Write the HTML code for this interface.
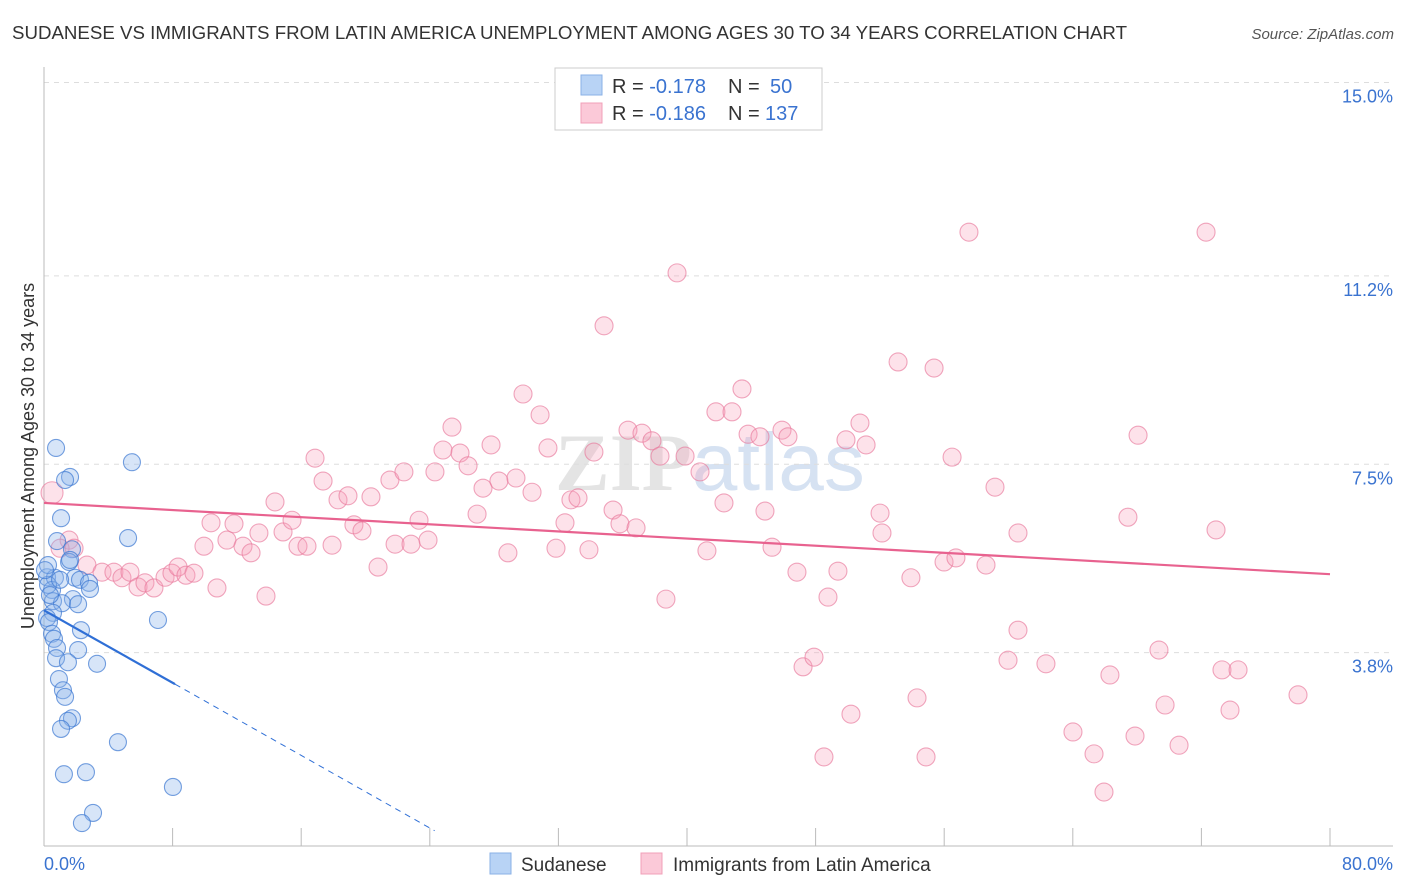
<!DOCTYPE html>
<html><head><meta charset="utf-8"><style>
body{margin:0;background:#fff;font-family:"Liberation Sans",sans-serif;}
#wrap{position:relative;width:1406px;height:892px;overflow:hidden;}
</style></head><body>
<div id="wrap">
<svg id="svg" width="1406" height="892" xmlns="http://www.w3.org/2000/svg" font-family="Liberation Sans, sans-serif">
<text x="12" y="39" font-size="18" fill="#333" textLength="1115" lengthAdjust="spacingAndGlyphs">SUDANESE VS IMMIGRANTS FROM LATIN AMERICA UNEMPLOYMENT AMONG AGES 30 TO 34 YEARS CORRELATION CHART</text>
<text x="1394" y="39" font-size="15" fill="#555" font-style="italic" text-anchor="end">Source: ZipAtlas.com</text>
<text x="555" y="490" font-size="82" fill="#e4e4e4" font-family="Liberation Serif, serif" font-weight="bold">ZIP<tspan fill="#d6e2f2" font-family="Liberation Sans, sans-serif" font-weight="normal">atlas</tspan></text>
<g id="grid"></g>
<g id="axes"></g>
<g id="pts"></g>
<g id="lines"></g>
<text transform="translate(34,456) rotate(-90)" font-size="18" fill="#333" text-anchor="middle">Unemployment Among Ages 30 to 34 years</text>
<g>
<rect x="555" y="68" width="267" height="62" fill="#fff" stroke="#ccc"/>
<rect x="581" y="75" width="21" height="20" fill="#b8d3f5" stroke="#8ab0e6"/>
<rect x="581" y="103" width="21" height="20" fill="#fbc9d8" stroke="#f0a0b8"/>
<text x="612" y="93" font-size="20" fill="#333">R = <tspan fill="#3a73d0">-0.178</tspan><tspan x="728">N = </tspan><tspan x="770" fill="#3a73d0">50</tspan></text>
<text x="612" y="120" font-size="20" fill="#333">R = <tspan fill="#3a73d0">-0.186</tspan><tspan x="728">N = </tspan><tspan x="765" fill="#3a73d0">137</tspan></text>
</g>
<g>
<rect x="490" y="853" width="21" height="21" fill="#b8d3f5" stroke="#8ab0e6"/>
<text x="521" y="871" font-size="19" fill="#333">Sudanese</text>
<rect x="641" y="853" width="21" height="21" fill="#fbc9d8" stroke="#f0a0b8"/>
<text x="673" y="871" font-size="19" fill="#333">Immigrants from Latin America</text>
</g>
</svg>
</div>
<script>
const yTicks=[3.8,7.5,11.2,15.0];
const yTickLabels=["3.8%","7.5%","11.2%","15.0%"];
const xTicks=[8,16,24,32,40,48,56,64,72,80];
const xEndLabels=["0.0%","80.0%"];
const sudX=[0.75,5.47,1.62,1.31,1.06,5.23,0.81,1.74,1.56,0.19,0.68,1.93,2.24,2.80,0.50,2.86,0.56,1.80,1.12,2.12,0.56,0.19,0.31,7.09,2.30,0.50,0.62,0.81,2.12,0.75,1.49,3.30,0.93,1.18,1.31,1.74,1.49,1.06,4.60,1.24,2.61,8.02,3.05,2.36,0.25,0.25,0.37,1.00,0.06,1.62];
const sudY=[7.82,7.54,7.25,7.19,6.44,6.05,5.99,5.83,5.58,5.28,5.27,5.27,5.23,5.17,5.03,5.05,4.81,4.85,4.77,4.75,4.58,4.48,4.40,4.44,4.24,4.17,4.07,3.89,3.85,3.69,3.61,3.58,3.28,3.06,2.93,2.51,2.46,2.30,2.04,1.41,1.45,1.16,0.65,0.45,5.52,5.13,4.93,5.23,5.42,5.62];
const latX=[0.50,1.56,1.00,1.87,2.67,3.61,4.35,4.85,5.35,5.85,6.28,6.84,7.53,7.96,8.34,8.83,9.33,9.95,10.39,10.76,11.38,11.82,12.38,12.88,13.37,13.81,14.37,14.87,15.43,15.80,16.36,16.86,17.36,17.92,18.29,18.91,19.28,19.78,20.34,20.78,21.52,21.84,22.39,22.83,23.33,23.89,24.32,24.82,25.38,25.88,26.38,26.94,27.31,27.81,28.30,28.86,29.36,29.80,30.36,30.86,31.35,31.85,32.41,32.78,33.22,33.90,34.21,34.84,35.40,35.83,36.33,36.83,37.20,37.82,38.32,38.69,39.38,39.88,40.81,41.24,41.80,42.30,42.80,43.42,43.80,44.54,44.85,45.29,45.91,46.28,46.84,47.22,47.90,48.52,48.77,49.39,49.89,50.20,50.76,51.14,52.01,52.13,53.13,53.93,54.31,54.87,55.37,55.99,56.49,56.73,57.54,58.60,59.16,59.97,60.59,60.59,62.33,64.01,65.32,65.94,66.31,67.43,67.87,68.06,69.36,69.74,70.61,72.29,72.91,73.28,73.78,74.28,78.01];
const latY=[6.94,6.01,5.85,5.85,5.52,5.38,5.38,5.27,5.38,5.09,5.17,5.07,5.28,5.36,5.48,5.32,5.36,5.89,6.35,5.07,6.01,6.33,5.89,5.76,6.15,4.91,6.76,6.17,6.40,5.89,5.89,7.62,7.17,5.91,6.80,6.88,6.31,6.19,6.86,5.48,7.19,5.93,7.35,5.93,6.40,6.01,7.35,7.78,8.23,7.72,7.47,6.52,7.03,7.88,7.17,5.76,7.23,8.88,6.95,8.47,7.82,5.85,6.35,6.80,6.84,5.82,7.74,10.22,6.60,6.33,8.17,6.25,8.11,7.96,7.66,4.85,11.26,7.66,7.35,5.80,8.53,6.74,8.53,8.98,8.09,8.04,6.58,5.87,8.17,8.04,5.38,3.52,3.71,1.75,4.89,5.40,7.98,2.59,8.31,7.88,6.54,6.15,9.51,5.27,2.91,1.75,9.39,5.58,7.64,5.66,12.06,5.52,7.05,3.65,4.24,6.15,3.58,2.24,1.81,1.06,3.36,6.46,2.16,8.07,3.85,2.77,1.98,12.06,6.21,3.46,2.67,3.46,2.97];
const sudTrend=[0,4.63,8.15,3.18,24.3,0.3];
const latTrend=[0,6.74,80,5.34];
const NS='http://www.w3.org/2000/svg';
const X=v=>44+v*16.075, Y=v=>846-v*50.9;
function mk(p,t,a){const e=document.createElementNS(NS,t);for(const k in a)e.setAttribute(k,a[k]);document.getElementById(p).appendChild(e);return e;}
yTicks.forEach((t,i)=>{
 const g=mk('grid','line',{x1:44,x2:1393,y1:Y(t),y2:Y(t),stroke:'#ddd','stroke-dasharray':'5,5'});
 
 
 const l=mk('grid','text',{x:1393,y:Y(t)+20,'text-anchor':'end','font-size':18,fill:'#3a73d0'});
 l.textContent=yTickLabels[i];
 
 
});
const ya=mk('axes','line',{x1:44,x2:44,y1:67,y2:846,stroke:'#bbb'});


const xa=mk('axes','line',{x1:44,x2:1393,y1:846,y2:846,stroke:'#bbb'});


xTicks.forEach(t=>{
 const k=mk('axes','line',{x1:X(t),x2:X(t),y1:828,y2:846,stroke:'#bbb'});
 
 
});
const xl0=mk('axes','text',{x:44,y:870,'font-size':18,fill:'#3a73d0'});xl0.textContent=xEndLabels[0];


const xl1=mk('axes','text',{x:1393,y:870,'font-size':18,fill:'#3a73d0','text-anchor':'end'});xl1.textContent=xEndLabels[1];


latX.forEach((v,i)=>{
 const c=mk('pts','circle',{cx:X(v),cy:Y(latY[i]),r:i==0?11:9,fill:'rgba(247,160,186,0.3)',stroke:'rgba(232,120,155,0.65)','stroke-width':1.1});
 
 
});
sudX.forEach((v,i)=>{
 const c=mk('pts','circle',{cx:X(v),cy:Y(sudY[i]),r:8.5,fill:'rgba(140,180,235,0.35)',stroke:'rgba(60,120,210,0.7)','stroke-width':1.1});
 
 
});
const b1=mk('lines','line',{x1:X(sudTrend[0]),y1:Y(sudTrend[1]),x2:X(sudTrend[2]),y2:Y(sudTrend[3]),stroke:'#2f6fd6','stroke-width':2.2});


const b2=mk('lines','line',{x1:X(sudTrend[2]),y1:Y(sudTrend[3]),x2:X(sudTrend[4]),y2:Y(sudTrend[5]),stroke:'#2f6fd6','stroke-width':1,'stroke-dasharray':'6,5'});


const p1=mk('lines','line',{x1:X(latTrend[0]),y1:Y(latTrend[1]),x2:X(latTrend[2]),y2:Y(latTrend[3]),stroke:'#e8628f','stroke-width':2.2});


</script>
</body></html>
